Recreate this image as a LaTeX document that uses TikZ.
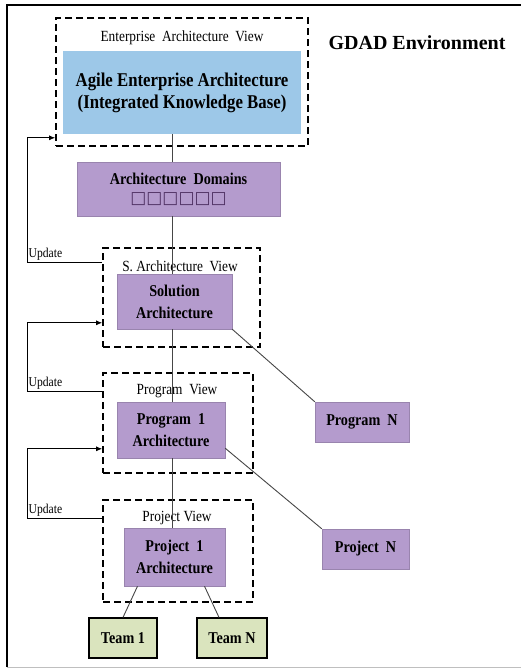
\documentclass[tikz,border=0pt]{standalone}
\usepackage{fontspec}
\setmainfont{Liberation Serif}
\newfontfamily\condserif[FakeStretch=0.86]{Liberation Serif}
\newfontfamily\boxglyphs{DejaVu Sans}
\usetikzlibrary{arrows.meta}
\definecolor{eablue}{RGB}{157,200,232}
\definecolor{archpurple}{RGB}{180,155,205}
\definecolor{teamgreen}{RGB}{218,228,190}
\definecolor{linkgray}{RGB}{70,70,70}
\definecolor{glyphpurple}{RGB}{80,50,100}
\tikzset{
  viewbox/.style={draw, line width=1.6pt, dash pattern=on 7pt off 4pt, inner sep=0pt},
  viewlabel/.style={inner sep=0pt, font=\condserif\fontsize{15.5}{16}\selectfont},
  archbox/.style={fill=archpurple, draw=archpurple!85!black, line width=0.4pt, inner sep=0pt,
    align=center, font=\condserif\fontsize{16.5}{22}\selectfont\bfseries},
  teambox/.style={fill=teamgreen, draw=black, line width=1.2pt, inner sep=0pt,
    font=\condserif\fontsize{16.5}{22}\selectfont\bfseries},
  link/.style={draw=linkgray, line width=0.9pt},
  upd/.style={draw=black, line width=0.9pt, -{Latex[length=6pt,width=5pt]}},
  updlabel/.style={inner sep=1pt, font=\condserif\fontsize{13.5}{14}\selectfont},
}
\begin{document}
\begin{tikzpicture}[x=1pt,y=-1pt]
    \useasboundingbox (0,0) rectangle (521,670);
    %% frame
    \draw[line width=2pt] (530,5) -- (7,5) -- (7,667);
    \draw[line width=1pt, black!25] (7,667) -- (530,667);
    %% enterprise level
    \node[viewbox, minimum width=252pt, minimum height=128pt] (eaview) at (182,82) {};
    \node[viewlabel] (eatitle) at (182,38) {Enterprise\ \ Architecture\ \ View};
    \node[fill=eablue, inner sep=0pt, minimum width=238pt, minimum height=83pt, align=center,
      font=\condserif\fontsize{19.5}{22}\selectfont\bfseries] (eabox) at (182,92.5)
      {Agile Enterprise Architecture\\(Integrated Knowledge Base)};
    \node[font=\fontsize{20}{22}\selectfont\bfseries] (gdad) at (417,43) {GDAD Environment};
    \node[archbox, minimum width=203pt, minimum height=54pt] (domains) at (178.5,189)
      {Architecture\ \ Domains\\[-3pt]{\boxglyphs\mdseries\color{glyphpurple}\fontsize{17}{18}\selectfont □□□□□□}};
    %% solution level
    \node[viewbox, minimum width=157pt, minimum height=99pt] (sview) at (181.5,297.5) {};
    \node[viewlabel] (stitle) at (180,266) {S. Architecture\ \ View};
    \node[archbox, minimum width=115pt, minimum height=55pt] (solution) at (174.5,301.5)
      {Solution\\Architecture};
    %% program level
    \node[viewbox, minimum width=150pt, minimum height=100pt] (progview) at (178,423) {};
    \node[viewlabel] (progtitle) at (177,391) {Program\ \ View};
    \node[archbox, minimum width=108pt, minimum height=56pt] (prog1) at (171,430)
      {Program\ \ 1\\Architecture};
    \node[archbox, minimum width=94pt, minimum height=40pt] (progN) at (362,422) {Program\ \ N};
    %% project level
    \node[viewbox, minimum width=150pt, minimum height=102pt] (projview) at (178,551) {};
    \node[viewlabel] (projtitle) at (177,518) {Project View};
    \node[archbox, minimum width=101pt, minimum height=58pt] (proj1) at (174.5,557)
      {Project\ \ 1\\Architecture};
    \node[archbox, minimum width=87pt, minimum height=40pt] (projN) at (365.5,549) {Project\ \ N};
    \node[teambox, minimum width=68pt, minimum height=40pt] (team1) at (123,638) {Team 1};
    \node[teambox, minimum width=70pt, minimum height=40pt] (teamN) at (232,638) {Team N};
    %% links
    \coordinate (trunk) at (172,0);
    \draw[link] (eabox.south -| trunk) -- (domains.north -| trunk);
    \draw[link] (domains.south -| trunk) -- (solution.north -| trunk);
    \draw[link] (solution.south -| trunk) -- (prog1.north -| trunk);
    \draw[link] (prog1.south -| trunk) -- (proj1.north -| trunk);
    \draw[link] (solution.south east) -- (progN.north west);
    \draw[link] ([yshift=10pt]prog1.south east) -- (projN.north west);
    \draw[link] ([xshift=-37pt]proj1.south) -- (team1.north);
    \draw[link] ([xshift=30pt]proj1.south) -- ([xshift=-13pt]teamN.north);
    %% updates
    \draw[upd] ([yshift=-15pt]sview.north west) -- ++(-75,0)
      node[updlabel, above right] {Update} |- ([yshift=9pt]eaview.south west);
    \draw[upd] ([yshift=-19pt]progview.north west) -- ++(-75,0)
      node[updlabel, above right] {Update} |- ([yshift=25pt]sview.south west);
    \draw[upd] ([yshift=-19pt]projview.north west) -- ++(-75,0)
      node[updlabel, above right] {Update} |- ([yshift=25pt]progview.south west);
\end{tikzpicture}
\end{document}
